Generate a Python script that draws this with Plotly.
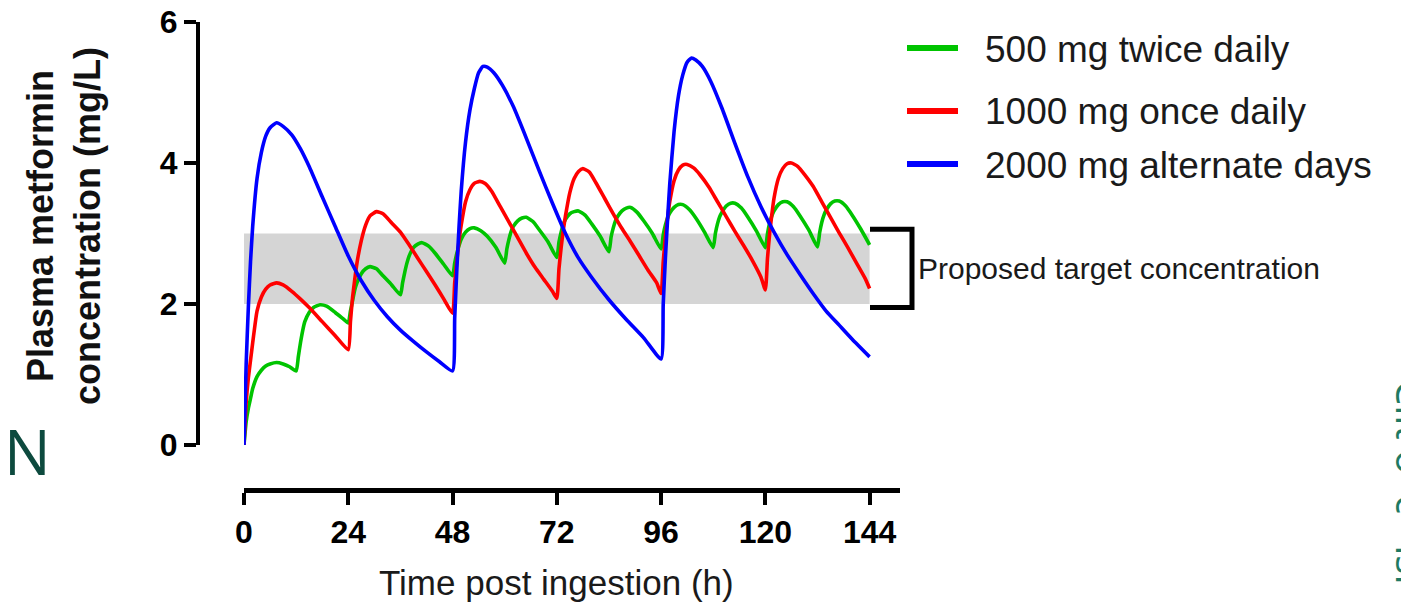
import plotly.graph_objects as go

PAGE_W, PAGE_H = 1409, 605
OFF = 8  # default body margin of the html page
W, H = PAGE_W - OFF, PAGE_H - OFF

# ---------------- data ----------------
series_names = ["500 mg twice daily", "1000 mg once daily", "2000 mg alternate days"]
series_colors = ["#00c400", "#ff0000", "#0000ff"]

# 500 mg twice daily (green)
t_500 = [0, 0.5, 1, 1.5, 2, 3, 4, 5, 6, 7.5, 9, 10.5, 12,
         12.5, 13, 13.5, 14, 15, 16, 17.5, 19, 21, 23, 24,
         24.5, 25, 25.5, 26, 27, 28, 29, 30.5, 32, 34, 36,
         36.5, 37, 37.5, 38, 39, 40, 41, 42.5, 44, 46, 48,
         48.5, 49, 49.5, 50, 51, 52, 53, 54.5, 56, 58, 60,
         60.5, 61, 61.5, 62, 63, 64, 65, 66.5, 68, 70, 72,
         72.5, 73, 73.5, 74, 75, 76, 77, 78.5, 80, 82, 84,
         84.5, 85, 85.5, 86, 87, 88, 89, 90.5, 92, 94, 96,
         96.5, 97, 97.5, 98, 99, 100, 101, 102.5, 104, 106, 108,
         108.5, 109, 109.5, 110, 111, 112, 113, 114.5, 116, 118, 120,
         120.5, 121, 121.5, 122, 123, 124, 125, 126.5, 128, 130, 132,
         132.5, 133, 133.5, 134, 135, 136, 137, 138.5, 140, 142, 144]
c_500 = [0, 0.33, 0.52, 0.66, 0.8, 0.97, 1.06, 1.12, 1.15, 1.17, 1.15, 1.11, 1.05,
         1.25, 1.45, 1.62, 1.75, 1.88, 1.95, 1.99, 1.97, 1.88, 1.78, 1.73,
         1.9, 2.05, 2.2, 2.3, 2.43, 2.5, 2.53, 2.5, 2.4, 2.27, 2.13,
         2.3, 2.45, 2.58, 2.68, 2.8, 2.85, 2.87, 2.82, 2.72, 2.56, 2.4,
         2.58, 2.72, 2.83, 2.92, 3.02, 3.07, 3.08, 3.04, 2.96, 2.8, 2.58,
         2.78, 2.92, 3.03, 3.1, 3.18, 3.22, 3.23, 3.17, 3.05, 2.88, 2.66,
         2.88, 3.02, 3.13, 3.2, 3.28, 3.31, 3.32, 3.26, 3.14, 2.96, 2.74,
         2.95, 3.08, 3.18, 3.24, 3.32, 3.36, 3.37, 3.3, 3.18, 3.0, 2.78,
         2.98, 3.12, 3.22, 3.29, 3.37, 3.41, 3.41, 3.34, 3.22, 3.02, 2.8,
         3.0, 3.14, 3.24, 3.3, 3.39, 3.43, 3.43, 3.36, 3.23, 3.03, 2.8,
         3.0, 3.15, 3.25, 3.32, 3.41, 3.45, 3.45, 3.38, 3.25, 3.05, 2.81,
         3.01, 3.16, 3.26, 3.33, 3.42, 3.46, 3.46, 3.39, 3.26, 3.06, 2.84]

# 1000 mg once daily (red)
t_1000 = [0, 0.5, 1, 1.5, 2, 3, 4, 5, 6, 7.5, 9, 11, 13, 15, 18, 21, 24,
          24.5, 25, 25.5, 26, 27, 28, 29, 30.5, 32, 34, 36, 38, 40, 42, 44, 46, 48,
          48.5, 49, 49.5, 50, 51, 52, 53, 54.3, 55.5, 57, 59, 61, 63, 65, 67, 69, 71, 72,
          72.5, 73, 73.5, 74, 75, 76, 77, 78, 79.5, 81, 83, 85, 87, 89, 91, 93, 95, 96,
          96.5, 97, 97.5, 98, 99, 100, 101, 102, 103.5, 105, 107, 109, 111, 113, 115, 117, 119, 120,
          120.5, 121, 121.5, 122, 123, 124, 125, 126, 127.5, 129, 131, 133, 135, 137, 139, 141, 143, 144]
c_1000 = [0, 0.6, 0.95, 1.2, 1.45, 1.9, 2.1, 2.21, 2.27, 2.3, 2.27, 2.18, 2.07, 1.95, 1.75, 1.55, 1.35,
          1.75, 2.1, 2.35, 2.58, 2.9, 3.12, 3.25, 3.31, 3.28, 3.15, 3.02, 2.84, 2.65, 2.46, 2.27, 2.07, 1.87,
          2.3, 2.62, 2.9, 3.12, 3.45, 3.62, 3.71, 3.74, 3.71, 3.6, 3.38, 3.16, 2.94, 2.72, 2.52, 2.35, 2.18, 2.08,
          2.5, 2.8, 3.05, 3.25, 3.58, 3.78, 3.88, 3.92, 3.87, 3.72, 3.5, 3.28, 3.07, 2.88, 2.68, 2.48, 2.3, 2.15,
          2.6, 2.95, 3.22, 3.45, 3.75, 3.9, 3.97, 3.98, 3.93, 3.83, 3.66, 3.45, 3.24, 3.03, 2.83, 2.62, 2.38, 2.2,
          2.65, 3.0, 3.27, 3.5, 3.78, 3.92, 3.99, 4.0, 3.95, 3.84, 3.67, 3.45, 3.23, 3.01, 2.8, 2.58, 2.36, 2.22]

# 2000 mg alternate days (blue)
t_2000 = [0, 0.5, 1, 1.5, 2, 3, 4, 5, 6, 7.5, 9, 11, 13, 15, 18, 21, 24, 27, 30, 33, 36, 39, 42, 45, 48,
          48.5, 49, 49.5, 50, 51, 52, 53, 54, 55, 56, 57.5, 59.5, 62, 65, 68, 71, 74, 77, 80, 84, 88, 92, 96,
          96.5, 97, 97.5, 98, 99, 100, 101, 102, 103, 104, 105.5, 107.5, 110, 113, 116, 119, 122, 125, 128,
          131, 134, 137, 140, 144]
c_2000 = [0, 1.15, 1.95, 2.6, 3.1, 3.78, 4.15, 4.38, 4.5, 4.57, 4.52, 4.4, 4.2, 3.95, 3.52, 3.1, 2.68, 2.33,
          2.05, 1.82, 1.63, 1.47, 1.32, 1.18, 1.05,
          1.8, 2.5, 3.1, 3.6, 4.3, 4.75, 5.05, 5.28, 5.37, 5.36, 5.28, 5.1, 4.8, 4.35, 3.88, 3.43, 3.0, 2.65,
          2.38, 2.06, 1.78, 1.52, 1.22,
          2.0, 2.65, 3.2, 3.7, 4.45, 4.95, 5.25, 5.43, 5.49, 5.46, 5.37, 5.15, 4.78, 4.28, 3.8, 3.38, 3.02,
          2.7, 2.42, 2.15, 1.9, 1.7, 1.5, 1.25]

target_range = [2, 3]
target_label = "Proposed target concentration"
x_ticks = [0, 24, 48, 72, 96, 120, 144]
y_ticks = [0, 2, 4, 6]
x_title = "Time post ingestion (h)"
y_title = "Plasma metformin<br>concentration (mg/L)"
edge_letter = "N"
edge_text_right = "Cilt o  c   isi"

series_t = [t_500, t_1000, t_2000]
series_c = [c_500, c_1000, c_2000]

# ---------------- figure ----------------
def px_x(p):
    return (p - OFF) / W

def px_y(p):
    return 1 - (p - OFF) / H

FONT = "Liberation Sans, Arial, Helvetica, sans-serif"

fig = go.Figure()
for name, t, c, col in zip(series_names, series_t, series_c, series_colors):
    fig.add_trace(go.Scatter(x=t, y=c, mode="lines", name=name, showlegend=False,
                             line=dict(color=col, width=3.6, shape="spline", smoothing=0.5)))

# target band (data coords)
fig.add_shape(type="rect", xref="x", yref="y", x0=x_ticks[0], x1=x_ticks[-1],
              y0=target_range[0], y1=target_range[1], fillcolor="#d5d5d5",
              line=dict(width=0), layer="below")

# bracket beside the band
bx0, bx1 = px_x(870), px_x(912)
fig.add_shape(type="path", xref="paper", yref="y",
              path=f"M {bx0},{target_range[1] + 0.06} H {bx1} V {target_range[0] - 0.05} H {bx0}",
              line=dict(color="black", width=5))

annotations = [
    dict(text=target_label, xref="paper", yref="y", x=px_x(916), y=sum(target_range) / 2,
         xanchor="left", yanchor="middle", showarrow=False,
         font=dict(family=FONT, size=30, color="#1a1a1a")),
    dict(text=x_title, xref="x", yref="paper", x=72, y=px_y(582),
         xanchor="center", yanchor="middle", showarrow=False,
         font=dict(family=FONT, size=35, color="#1a1a1a")),
    dict(text=y_title, xref="paper", yref="paper", x=px_x(64), y=px_y(226),
         xanchor="center", yanchor="middle", showarrow=False, textangle=-90,
         font=dict(family=FONT, size=36, color="#111111", weight="bold")),
    dict(text=edge_letter, xref="paper", yref="paper", x=px_x(2), y=px_y(451),
         xanchor="left", yanchor="middle", showarrow=False,
         font=dict(family="Open Sans, sans-serif", size=62, color="#0d4a3e")),
    dict(text=edge_text_right, xref="paper", yref="paper", x=px_x(1411), y=px_y(378),
         xanchor="center", yanchor="top", showarrow=False, textangle=90,
         font=dict(family="Open Sans, sans-serif", size=40, color="#1f7a62")),
]

# manual legend
legend_rows = [48, 111, 164]
for name, col, ry in zip(series_names, series_colors, legend_rows):
    fig.add_shape(type="line", xref="paper", yref="paper", x0=px_x(907), x1=px_x(958),
                  y0=px_y(ry), y1=px_y(ry), line=dict(color=col, width=6))
    annotations.append(dict(text=name, xref="paper", yref="paper", x=px_x(983), y=px_y(ry + 1),
                            xanchor="left", yanchor="middle", showarrow=False,
                            font=dict(family=FONT, size=37, color="#1a1a1a")))

fig.update_layout(
    width=W, height=H,
    margin=dict(l=0, r=0, t=0, b=0, pad=0),
    paper_bgcolor="white", plot_bgcolor="white",
    showlegend=False,
    annotations=annotations,
    xaxis=dict(domain=[px_x(244), px_x(900)], range=[0, 151], anchor="free", position=px_y(490),
               tickvals=x_ticks, ticktext=[str(v) for v in x_ticks], ticklabeloverflow="allow",
               showline=True, linecolor="black", linewidth=5,
               ticks="outside", ticklen=12, tickwidth=4, tickcolor="black",
               showgrid=False, zeroline=False, automargin=False,
               tickfont=dict(family=FONT, size=32, color="black", weight="bold")),
    yaxis=dict(domain=[px_y(445), px_y(22)], range=[0, 6], anchor="free", position=px_x(198),
               tickvals=y_ticks, ticktext=[str(v) for v in y_ticks], ticklabeloverflow="allow",
               showline=True, linecolor="black", linewidth=4,
               ticks="outside", ticklen=12, tickwidth=4, tickcolor="black",
               showgrid=False, zeroline=False, automargin=False,
               tickfont=dict(family=FONT, size=32, color="black", weight="bold")),
)

fig.write_html("out.html", post_script="document.body.style.overflow='hidden';")
